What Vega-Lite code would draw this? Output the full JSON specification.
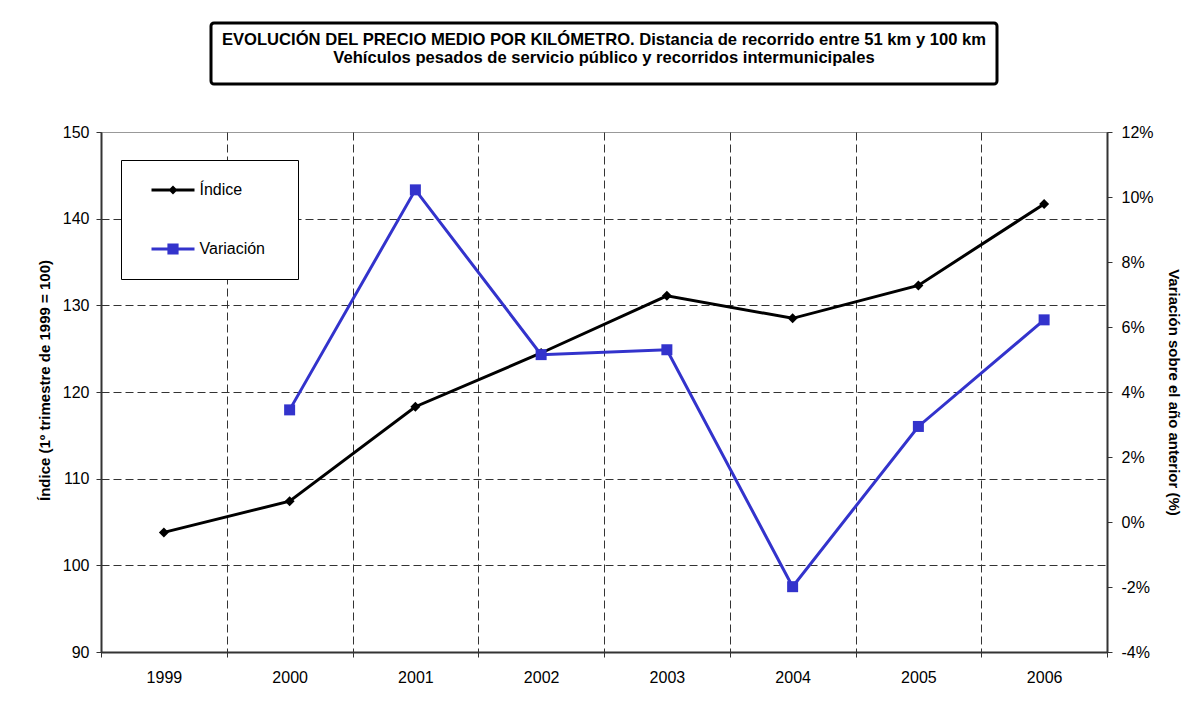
{
  "$schema": "https://vega.github.io/schema/vega-lite/v6.json",
  "background": "white",
  "padding": {"left": 36, "top": 21, "right": 10, "bottom": 10},
  "config": {
    "font": "Liberation Sans",
    "view": {"stroke": null},
    "axis": {
      "labelFont": "Liberation Sans",
      "labelFontSize": 16,
      "labelColor": "#000",
      "titleFont": "Liberation Sans",
      "titleFontSize": 15,
      "titleFontWeight": "bold",
      "titleColor": "#000",
      "domainColor": "#333",
      "domainWidth": 2,
      "tickColor": "#333",
      "tickWidth": 1,
      "tickSize": 5
    }
  },
  "datasets": {
    "titulo": [
      {"texto": "EVOLUCIÓN DEL PRECIO MEDIO POR KILÓMETRO. Distancia de recorrido entre 51 km y 100 km\nVehículos pesados de servicio público y recorridos intermunicipales"}
    ],
    "serie": [
      {"anio": "1999", "indice": 103.8, "variacion": null},
      {"anio": "2000", "indice": 107.4, "variacion": 0.0345},
      {"anio": "2001", "indice": 118.3, "variacion": 0.1022},
      {"anio": "2002", "indice": 124.5, "variacion": 0.0515},
      {"anio": "2003", "indice": 131.1, "variacion": 0.0530},
      {"anio": "2004", "indice": 128.5, "variacion": -0.0199},
      {"anio": "2005", "indice": 132.3, "variacion": 0.0294},
      {"anio": "2006", "indice": 141.7, "variacion": 0.0622}
    ]
  },
  "spacing": 48,
  "center": true,
  "bounds": "flush",
  "resolve": {"legend": {"color": "independent"}},
  "vconcat": [
    {
      "width": 786,
      "height": 61,
      "view": {"stroke": "#000", "strokeWidth": 3, "cornerRadius": 3},
      "data": {"name": "titulo"},
      "mark": {
        "type": "text",
        "font": "Liberation Sans",
        "fontWeight": "bold",
        "fontSize": 16.6,
        "lineBreak": "\n",
        "lineHeight": 18,
        "baseline": "middle",
        "align": "center",
        "dy": -14,
        "color": "#000"
      },
      "encoding": {"text": {"field": "texto", "type": "nominal"}}
    },
    {
      "width": 1006,
      "height": 520,
      "view": {"stroke": "#999", "strokeWidth": 1},
      "data": {"name": "serie"},
      "encoding": {
        "x": {
          "field": "anio",
          "type": "ordinal",
          "scale": {"type": "band", "paddingInner": 0, "paddingOuter": 0},
          "axis": {
            "title": null,
            "labelAngle": 0,
            "tickBand": "extent",
            "grid": true,
            "gridDash": [8, 4],
            "gridColor": "#333",
            "labelPadding": 12
          }
        }
      },
      "layer": [
        {
          "encoding": {
            "y": {
              "field": "indice",
              "type": "quantitative",
              "scale": {"domain": [90, 150], "nice": false, "zero": false},
              "axis": {
                "title": "Índice (1º trimestre de 1999 = 100)",
                "titleY": 248,
                "values": [90, 100, 110, 120, 130, 140, 150],
                "grid": true,
                "gridDash": [8, 4],
                "gridColor": "#333",
                "gridOpacity": {"condition": {"test": "datum.value == 150", "value": 0}, "value": 1},
                "labelPadding": 7,
                "titlePadding": 10
              }
            }
          },
          "layer": [
            {
              "mark": {"type": "line", "strokeWidth": 3},
              "encoding": {
                "color": {
                  "datum": "Índice",
                  "type": "nominal",
                  "scale": {"domain": ["Índice", "Variación"], "range": ["#000000", "#3333cc"]},
                  "legend": {
                    "orient": "none",
                    "legendX": 20,
                    "legendY": 28,
                    "title": null,
                    "strokeColor": "#000",
                    "fillColor": "#fff",
                    "padding": 8.5,
                    "cornerRadius": 0,
                    "symbolSize": 1849,
                    "clipHeight": 43,
                    "symbolOffset": 22,
                    "labelOffset": 5,
                    "rowPadding": 16,
                    "labelFont": "Liberation Sans",
                    "labelFontSize": 16,
                    "labelColor": "#000",
                    "labelExpr": "datum.label + '\u2800\u2800'",
                    "encode": {
                      "symbols": {
                        "update": {
                          "shape": {"signal": "datum.value === 'Índice' ? 'M-1,-0.07L1,-0.07L1,0.07L-1,0.07Z M0,-0.21L0.21,0L0,0.21L-0.21,0Z' : 'M-1,-0.07L1,-0.07L1,0.07L-1,0.07Z M-0.26,-0.26L0.26,-0.26L0.26,0.26L-0.26,0.26Z'"},
                          "fill": {"signal": "datum.value === 'Índice' ? '#000000' : '#3333cc'"},
                          "stroke": {"value": "transparent"},
                          "strokeWidth": {"value": 0},
                          "opacity": {"value": 1},
                          "fillOpacity": {"value": 1}
                        }
                      }
                    }
                  }
                }
              }
            },
            {
              "mark": {"type": "point", "shape": "diamond", "filled": true, "size": 100, "color": "#000", "opacity": 1}
            }
          ]
        },
        {
          "encoding": {
            "y": {
              "field": "variacion",
              "type": "quantitative",
              "scale": {"domain": [-0.04, 0.12], "nice": false, "zero": false},
              "axis": {
                "orient": "right",
                "title": "Variación sobre el año anterior (%)",
                "values": [-0.04, -0.02, 0, 0.02, 0.04, 0.06, 0.08, 0.1, 0.12],
                "labelExpr": "round(datum.value * 100) + '%'",
                "grid": false,
                "labelPadding": 9,
                "titlePadding": 12
              }
            }
          },
          "layer": [
            {
              "mark": {"type": "line", "strokeWidth": 3},
              "encoding": {"color": {"datum": "Variación", "type": "nominal"}}
            },
            {
              "mark": {"type": "point", "shape": "square", "filled": true, "size": 121, "color": "#3333cc", "opacity": 1}
            }
          ]
        }
      ],
      "resolve": {"scale": {"y": "independent"}}
    }
  ]
}
